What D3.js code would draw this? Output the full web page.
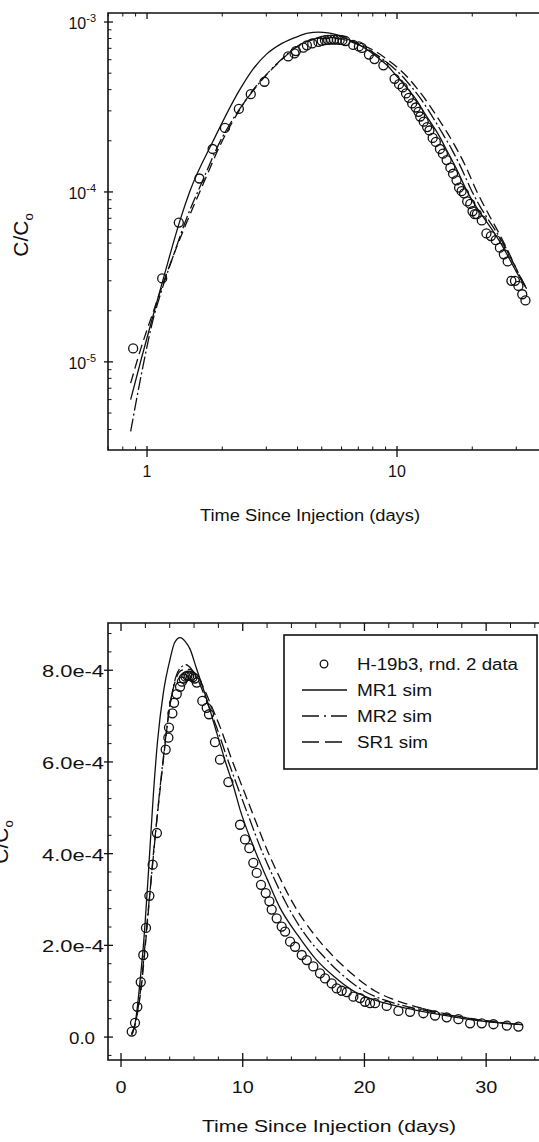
<!DOCTYPE html>
<html><head><meta charset="utf-8">
<script src="https://cdn.jsdelivr.net/npm/d3@7"></script>
<style>
html,body{margin:0;padding:0;background:#fff;}
svg{display:block;font-family:"Liberation Sans",Arial,Helvetica,sans-serif;}
</style></head><body>
<svg id="c" width="539" height="1142"></svg>
<script>
// ---------- data (concentrations in units of 1e-4) ----------
const obsDays = [0.88,1.15,1.34,1.62,1.83,2.05,2.33,2.6,2.95,3.67,3.89,3.94,4.22,4.36,4.58,4.85,5.0,5.15,5.3,5.45,5.6,5.75,5.9,6.05,6.22,6.68,7.04,7.23,7.72,8.13,8.82,9.78,10.19,10.54,10.87,11.15,11.5,11.89,12.19,12.38,12.79,13.2,13.48,13.89,14.3,14.85,15.26,15.8,16.35,16.76,17.31,17.72,18.13,18.55,19.09,19.64,20.05,20.46,20.87,21.83,22.79,23.75,24.84,25.8,26.76,27.72,28.68,29.64,30.6,31.7,32.65];
const obsConc = [0.12,0.31,0.66,1.20,1.79,2.38,3.08,3.76,4.45,6.27,6.53,6.75,7.06,7.29,7.48,7.64,7.75,7.82,7.86,7.88,7.88,7.87,7.85,7.82,7.73,7.33,7.18,7.04,6.43,6.05,5.56,4.63,4.31,4.12,3.80,3.58,3.32,3.14,2.96,2.78,2.59,2.41,2.30,2.08,1.97,1.79,1.68,1.54,1.39,1.28,1.17,1.06,1.01,0.98,0.88,0.85,0.77,0.74,0.74,0.68,0.57,0.55,0.52,0.47,0.43,0.39,0.30,0.30,0.28,0.25,0.23];

const mr1Days = [0.86,0.95,1.09,1.22,1.355,1.48,1.84,2.35,2.66,3.0,3.48,4.03,4.4,4.85,5.3,5.67,6.22,7.04,7.86,8.69,9.25,9.78,10.87,12.0,13.0,14.55,16.0,17.5,19.0,20.5,22.0,24.0,26.0,28.0,30.0,32.0,33.0];
const mr1Conc = [0.06,0.105,0.22,0.40,0.68,1.0,2.0,4.0,5.3,6.45,7.51,8.24,8.6,8.71,8.62,8.46,8.02,7.37,6.64,5.91,5.46,4.96,4.16,3.45,2.85,2.21,1.70,1.32,1.02,0.84,0.72,0.60,0.50,0.41,0.34,0.29,0.27];

const mr2Days = [0.86,0.95,1.05,1.15,1.28,1.44,1.65,1.95,2.3,2.66,3.0,3.48,4.0,4.5,5.0,5.35,5.8,6.3,7.0,7.86,8.7,9.57,10.5,11.5,12.5,13.5,15.2,16.5,18.0,20.0,21.5,23.0,25.0,27.0,29.0,31.0,33.0];
const mr2Conc = [0.039,0.085,0.17,0.27,0.43,0.70,1.12,1.95,2.95,3.95,4.9,6.1,7.2,7.85,8.08,8.12,8.02,7.8,7.35,6.75,6.1,5.46,4.8,4.1,3.5,2.95,2.21,1.80,1.40,1.0,0.82,0.70,0.58,0.48,0.39,0.32,0.27];

const sr1Days = [0.86,0.95,1.05,1.15,1.3,1.44,1.68,1.96,2.3,2.66,2.95,3.48,4.0,4.5,5.0,5.6,6.1,6.6,7.3,8.2,9.1,10.05,11.0,12.0,13.0,14.0,15.95,17.3,18.8,20.9,22.3,23.6,25.3,27.2,29.1,31.0,33.0];
const sr1Conc = [0.075,0.123,0.19,0.28,0.456,0.66,1.12,1.88,2.9,4.0,4.75,6.05,7.2,7.8,8.0,8.02,7.93,7.72,7.3,6.72,6.05,5.4,4.75,4.08,3.5,2.98,2.21,1.80,1.42,1.0,0.83,0.71,0.59,0.48,0.39,0.32,0.27];

const logXMajor = [1, 10];
const logXMinor = [0.7,0.8,0.9,2,3,4,5,6,7,8,9,20,30];
const logYMajor = [1e-5, 1e-4, 1e-3];
const logYExp = ["-5", "-4", "-3"];
const linXMajor = [0, 10, 20, 30];
const linYMajor = [0, 2e-4, 4e-4, 6e-4, 8e-4];
const linYLabels = ["0.0", "2.0e-4", "4.0e-4", "6.0e-4", "8.0e-4"];
const legendLabels = ["H-19b3, rnd. 2 data", "MR1 sim", "MR2 sim", "SR1 sim"];
const xTitle = "Time Since Injection (days)";

// ---------- build ----------
const S = 1e-4;
const obs = obsDays.map((d,i)=>({d, c: obsConc[i]*S}));
const sims = [
  {name:"MR1", pts: mr1Days.map((d,i)=>({d, c: mr1Conc[i]*S})), dash:null},
  {name:"MR2", pts: mr2Days.map((d,i)=>({d, c: mr2Conc[i]*S})), dash:"13,3,2,3"},
  {name:"SR1", pts: sr1Days.map((d,i)=>({d, c: sr1Conc[i]*S})), dash:"10,5"}
];

const svg = d3.select("#c");
const ink = "#111";

function frame(g, x0, x1, y0, y1){
  g.append("path").attr("d", `M${x1},${y0}H${x0}V${y1}H${x1}`)
    .attr("fill","none").attr("stroke",ink).attr("stroke-width",1.6);
}
function tick(g, x1,y1,x2,y2,w){
  g.append("line").attr("x1",x1).attr("y1",y1).attr("x2",x2).attr("y2",y2)
   .attr("stroke",ink).attr("stroke-width",w||1.2);
}

// ===== TOP (log-log) =====
{
  const g = svg.append("g");
  const x = d3.scaleLog().domain([0.698, 40]).range([108, 547.5]);
  const y = d3.scaleLog().domain([3.03e-6, 1.13e-3]).range([450, 13]);
  const L = 108, B = 450, T = 13;
  frame(g, L, 560, T, B);

  logYMajor.forEach((v,i)=>{
    tick(g, L-4, y(v), L+5, y(v), 1.3);
    const t = g.append("text").attr("x", 96).attr("y", y(v)+7)
      .attr("text-anchor","end").attr("font-size",16).attr("fill",ink);
    t.append("tspan").text("10");
    t.append("tspan").attr("font-size",11).attr("dy",-7).text(logYExp[i]);
  });
  [-6,-5,-4].forEach(k=>{
    for(let m=2;m<=9;m++){
      const v = m*Math.pow(10,k);
      if (v > y.domain()[0] && v < y.domain()[1]) tick(g, L, y(v), L+3.5, y(v), 1);
    }
  });
  logXMajor.forEach(v=>{
    tick(g, x(v), B-4, x(v), B+7, 1.3);
    tick(g, x(v), T, x(v), T+6, 1.3);
    g.append("text").attr("x", x(v)).attr("y", 477).attr("text-anchor","middle")
      .attr("font-size",16).attr("fill",ink).text(v);
  });
  logXMinor.forEach(v=>{
    tick(g, x(v), B, x(v), B-3.5, 1);
    tick(g, x(v), T, x(v), T+3.5, 1);
  });

  sims.forEach(s=>{
    const line = d3.line().x(p=>x(p.d)).y(p=>y(p.c)).curve(d3.curveMonotoneX);
    g.append("path").attr("d", line(s.pts)).attr("fill","none").attr("stroke",ink)
      .attr("stroke-width",1.3).attr("stroke-dasharray", s.dash);
  });
  g.selectAll("circle.o").data(obs).join("circle").attr("class","o")
    .attr("cx", p=>x(p.d)).attr("cy", p=>y(p.c)).attr("r",4.5)
    .attr("fill","none").attr("stroke",ink).attr("stroke-width",1.3);

  g.append("text").attr("x",310).attr("y",521).attr("text-anchor","middle")
    .attr("font-size",16).attr("textLength",220).attr("lengthAdjust","spacingAndGlyphs")
    .attr("fill",ink).text(xTitle);
  const yl = g.append("text").attr("transform","translate(28,235) rotate(-90)")
    .attr("text-anchor","middle").attr("font-size",21).attr("fill",ink);
  yl.append("tspan").text("C/C");
  yl.append("tspan").attr("font-size",13).attr("dy",5).text("o");
}

// ===== BOTTOM (linear) =====
{
  const g = svg.append("g");
  const x = d3.scaleLinear().domain([-1.07, 35]).range([108, 547]);
  const y = d3.scaleLinear().domain([-5e-5, 9.03e-4]).range([1060, 623]);
  const L = 108, B = 1060, T = 623;
  frame(g, L, 560, T, B);

  linYMajor.forEach((v,i)=>{
    tick(g, L-4, y(v), L+5, y(v), 1.3);
    const lab = linYLabels[i];
    const hasE = lab.indexOf("e") >= 0;
    g.append("text").attr("x", hasE ? 104 : 95).attr("y", y(v)+7)
      .attr("text-anchor","end").attr("font-size",16).attr("fill",ink)
      .attr("textLength", hasE ? 62 : 26).attr("lengthAdjust","spacingAndGlyphs")
      .text(lab);
  });
  d3.range(-4e-5, 9e-4, 4e-5).forEach(v=>{
    if (Math.abs(v/2e-4 - Math.round(v/2e-4)) > 1e-6) tick(g, L, y(v), L+3.5, y(v), 1);
  });
  linXMajor.forEach(v=>{
    tick(g, x(v), B-7, x(v), B+7, 1.3);
    tick(g, x(v), T, x(v), T+8, 1.3);
    g.append("text").attr("x", x(v)).attr("y", 1093).attr("text-anchor","middle")
      .attr("font-size",16).attr("fill",ink)
      .attr("textLength", String(v).length*11).attr("lengthAdjust","spacingAndGlyphs").text(v);
  });
  d3.range(2, 35, 2).filter(v=>v%10!==0).forEach(v=>{
    tick(g, x(v), B, x(v), B-3.5, 1);
    tick(g, x(v), T, x(v), T+5, 1);
  });

  sims.forEach(s=>{
    const line = d3.line().x(p=>x(p.d)).y(p=>y(p.c)).curve(d3.curveMonotoneX);
    g.append("path").attr("d", line(s.pts)).attr("fill","none").attr("stroke",ink)
      .attr("stroke-width",1.3).attr("stroke-dasharray", s.dash);
  });
  g.selectAll("circle.o").data(obs).join("circle").attr("class","o")
    .attr("cx", p=>x(p.d)).attr("cy", p=>y(p.c)).attr("r",4.5)
    .attr("fill","none").attr("stroke",ink).attr("stroke-width",1.3);

  g.append("text").attr("x",329).attr("y",1132).attr("text-anchor","middle")
    .attr("font-size",16).attr("textLength",254).attr("lengthAdjust","spacingAndGlyphs")
    .attr("fill",ink).text(xTitle);
  const yl = g.append("text").attr("transform","translate(8,842) rotate(-90)")
    .attr("text-anchor","middle").attr("font-size",21).attr("fill",ink);
  yl.append("tspan").text("C/C");
  yl.append("tspan").attr("font-size",13).attr("dy",5).text("o");

  const lg = g.append("g");
  lg.append("rect").attr("x",284).attr("y",635).attr("width",253).attr("height",134)
    .attr("fill","#fff").attr("stroke",ink).attr("stroke-width",1.6);
  const rowY = [670, 696, 722, 748];
  const lw = [161, 75, 75, 71];
  legendLabels.forEach((t,i)=>{
    lg.append("text").attr("x",357).attr("y",rowY[i]).attr("font-size",16).attr("fill",ink)
      .attr("textLength", lw[i]).attr("lengthAdjust","spacingAndGlyphs").text(t);
  });
  lg.append("circle").attr("cx",324).attr("cy",rowY[0]-6).attr("r",3.8)
    .attr("fill","none").attr("stroke",ink).attr("stroke-width",1.3);
  sims.forEach((s,i)=>{
    lg.append("line").attr("x1",302).attr("x2",347).attr("y1",rowY[i+1]-6).attr("y2",rowY[i+1]-6)
      .attr("stroke",ink).attr("stroke-width",1.3).attr("stroke-dasharray", s.dash ? (i===1?"17,5,2,5":"17,6") : null);
  });
}
</script>
</body></html>
